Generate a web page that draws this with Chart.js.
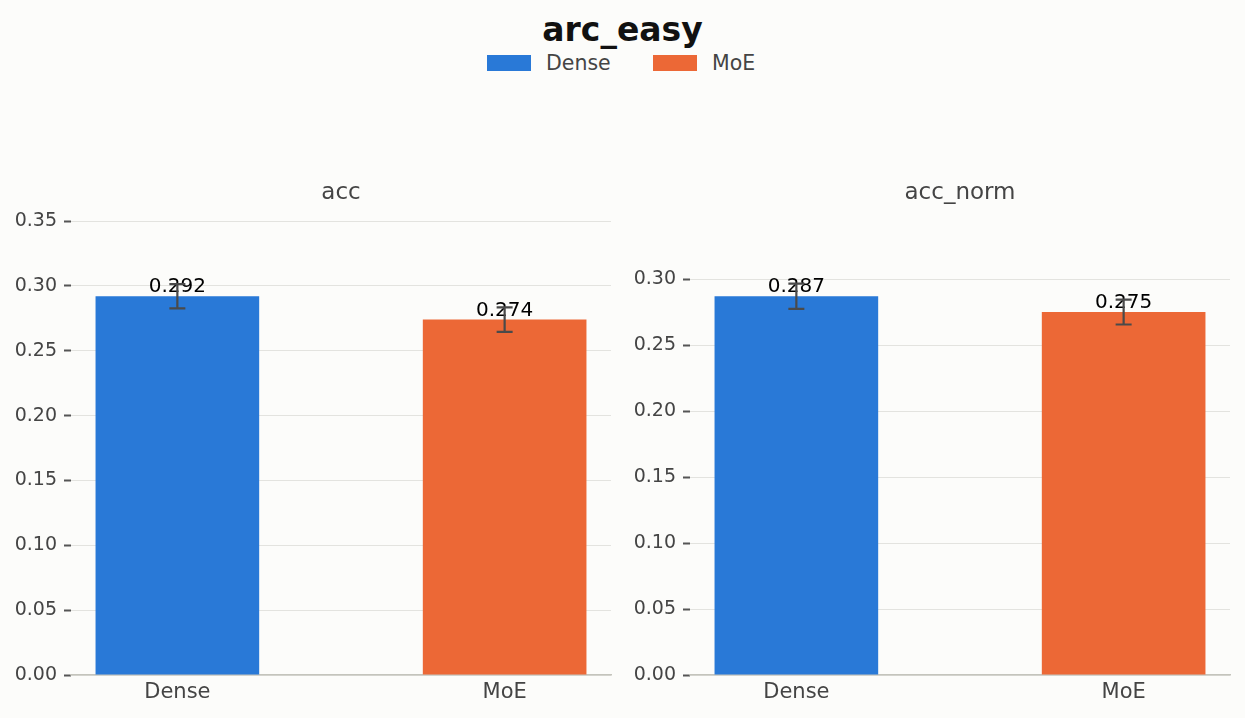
<!DOCTYPE html>
<html>
<head>
<meta charset="utf-8">
<script src="https://cdn.jsdelivr.net/npm/chart.js@4.4.1/dist/chart.umd.min.js"></script>
<style>
  html, body { margin: 0; padding: 0; background: #fcfcfa; }
  body { width: 1245px; height: 718px; position: relative; overflow: hidden; font-family: "DejaVu Sans", sans-serif; }
  #title { position: absolute; left: 0; width: 1245px; top: 10px; text-align: center; font-weight: bold; font-size: 33px; line-height: 40px; color: #111; }
  .lbox { position: absolute; top: 55px; width: 44px; height: 16px; }
  .ltxt { position: absolute; top: 51px; font-size: 20.5px; line-height: 24px; color: #444; }
  canvas { position: absolute; }
</style>
</head>
<body>
<div id="title"></div>
<div id="legend"></div>
<canvas id="c1" width="626" height="568" style="left:0px;top:150px;"></canvas>
<canvas id="c2" width="626" height="568" style="left:619px;top:150px;"></canvas>
<script>
const figureTitle = 'arc_easy';
const categories = ['Dense', 'MoE'];
const colors = ['#2979d7', '#ec6836'];
const metrics = ['acc', 'acc_norm'];
const accValues = [0.292, 0.274];
const accErrors = [0.0094, 0.0094];
const accNormValues = [0.287, 0.275];
const accNormErrors = [0.0096, 0.0094];

// legend (HTML)
const legendPos = [[487, 547], [653, 713]];
const legend = document.getElementById('legend');
categories.forEach((c, i) => {
  const b = document.createElement('div');
  b.className = 'lbox'; b.style.left = legendPos[i][0] + 'px'; b.style.background = colors[i];
  legend.appendChild(b);
  const t = document.createElement('div');
  t.className = 'ltxt'; t.style.left = (legendPos[i][1] - 1) + 'px'; t.textContent = c;
  legend.appendChild(t);
});

const errPlugin = {
  id: 'errAndLabels',
  afterDatasetsDraw(chart) {
    const ctx = chart.ctx;
    const ys = chart.scales.y;
    const ca = chart.chartArea;
    const ds = chart.data.datasets[0];
    const meta = chart.getDatasetMeta(0);
    const opts = chart.options.plugins.errAndLabels;
    const errs = opts.errors;
    ctx.save();
    // subplot title centred over the plot area
    ctx.fillStyle = '#444';
    ctx.font = '23px "DejaVu Sans"';
    ctx.textAlign = 'center';
    ctx.textBaseline = 'middle';
    ctx.fillText(opts.title, (ca.left + ca.right) / 2, ca.top - 27.5);
    meta.data.forEach((bar, i) => {
      const v = ds.data[i].y;
      const x = bar.x;
      // value label
      ctx.fillStyle = '#000';
      ctx.font = '20px "DejaVu Sans"';
      ctx.textAlign = 'center';
      ctx.textBaseline = 'alphabetic';
      ctx.fillText(v.toFixed(3), x, ys.getPixelForValue(v) - 4);
      // error bar
      const yt = ys.getPixelForValue(v + errs[i]);
      const yb = ys.getPixelForValue(v - errs[i]);
      ctx.strokeStyle = '#4a4a4a';
      ctx.lineWidth = 2.2;
      ctx.beginPath();
      ctx.moveTo(x, yt); ctx.lineTo(x, yb);
      ctx.moveTo(x - 8, yt); ctx.lineTo(x + 8, yt);
      ctx.moveTo(x - 8, yb); ctx.lineTo(x + 8, yb);
      ctx.stroke();
    });
    ctx.restore();
  }
};

function makeChart(id, title, values, errors) {
  const ymax = Math.max(...values) * 1.2;
  return new Chart(document.getElementById(id), {
    type: 'bar',
    data: {
      datasets: [{
        label: title,
        data: values.map((v, i) => ({ x: i, y: v })),
        backgroundColor: colors,
        borderWidth: 0,
        categoryPercentage: 1,
        barPercentage: 0.5
      }]
    },
    options: {
      responsive: false,
      animation: false,
      events: [],
      layout: { padding: { left: 0, right: 15, top: 70.5, bottom: 0 } },
      plugins: {
        legend: { display: false },
        tooltip: { enabled: false },
        title: { display: false },
        errAndLabels: { errors: errors, title: title }
      },
      scales: {
        x: {
          type: 'linear',
          offset: false,
          min: -0.325, max: 1.325,
          afterFit: s => { s.height = 43; },
          grid: { display: true, offset: false, color: 'transparent', drawTicks: false },
          border: { display: true, color: '#c4c4bc', width: 1.5 },
          ticks: {
            stepSize: 1, includeBounds: false, autoSkip: false, maxRotation: 0,
            padding: 5, color: '#444',
            font: { family: 'DejaVu Sans', size: 21 },
            callback: v => categories[v] !== undefined && Number.isInteger(v) ? categories[v] : ''
          }
        },
        y: {
          min: 0, max: ymax,
          afterFit: s => { s.width = 71; },
          grid: { color: '#e3e3df', lineWidth: 1, drawTicks: true, tickLength: 7, tickColor: '#555', tickWidth: 2 },
          border: { display: false },
          ticks: {
            stepSize: 0.05, includeBounds: false, padding: 7, color: '#444',
            font: { family: 'DejaVu Sans', size: 19 },
            callback: v => Number(v).toFixed(2)
          }
        }
      }
    },
    plugins: [errPlugin]
  });
}

document.getElementById('title').textContent = figureTitle;
makeChart('c1', metrics[0], accValues, accErrors);
makeChart('c2', metrics[1], accNormValues, accNormErrors);
</script>
</body>
</html>
